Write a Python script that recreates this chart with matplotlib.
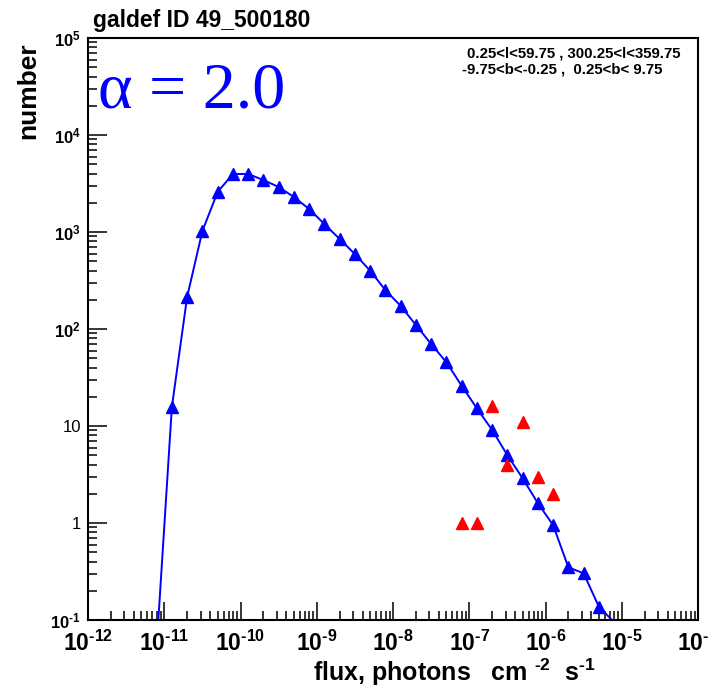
import matplotlib
matplotlib.use("Agg")
import matplotlib.pyplot as plt
import numpy as np
from matplotlib.ticker import FixedLocator, FixedFormatter, LogLocator, NullFormatter

# fonts: ROOT-like helvetica look
matplotlib.rcParams['font.family'] = ['Liberation Sans', 'DejaVu Sans']
matplotlib.rcParams['mathtext.fontset'] = 'custom'
matplotlib.rcParams['mathtext.rm'] = 'Liberation Sans:bold'
matplotlib.rcParams['mathtext.it'] = 'Liberation Sans:bold'
matplotlib.rcParams['mathtext.bf'] = 'Liberation Sans:bold'
matplotlib.rcParams['mathtext.default'] = 'rm'

# source counts per flux bin (log10 flux bin centres)
log_flux_model = [-11.1, -10.9, -10.7, -10.5, -10.3, -10.1, -9.9, -9.7, -9.5, -9.3,
                  -9.1, -8.9, -8.7, -8.5, -8.3, -8.1, -7.9, -7.7, -7.5, -7.3,
                  -7.1, -6.9, -6.7, -6.5, -6.3, -6.1, -5.9, -5.7, -5.5, -5.3, -5.1]
n_model = [0.053, 15.7, 214, 1024, 2585, 3963, 3963, 3436, 2911, 2296,
           1727, 1208, 847, 593, 399, 252, 173, 110, 70, 45.4,
           26.0, 15.2, 9.1, 5.0, 2.89, 1.60, 0.95, 0.349, 0.303, 0.137, 0.095]

# observed counts
log_flux_obs = [-7.1, -6.9, -6.7, -6.5, -6.3, -6.1, -5.9]
n_obs = [1, 1, 16, 4, 11, 3, 2]

x_major = [1e-12, 1e-11, 1e-10, 1e-9, 1e-8, 1e-7, 1e-6, 1e-5, 1e-4]
x_labels = [r'$10^{\text{-}12}$', r'$10^{\text{-}11}$', r'$10^{\text{-}10}$', r'$10^{\text{-}9}$',
            r'$10^{\text{-}8}$', r'$10^{\text{-}7}$', r'$10^{\text{-}6}$', r'$10^{\text{-}5}$',
            r'$10^{\text{-}4}$']
y_major = [1e-1, 1, 10, 1e2, 1e3, 1e4, 1e5]
y_labels = [r'$10^{\text{-}1}$', '1', '10', r'$10^{2}$', r'$10^{3}$', r'$10^{4}$', r'$10^{5}$']

W, H = 708, 690
fig = plt.figure(figsize=(W / 100, H / 100), dpi=100)
ax = fig.add_axes([88 / W, 70 / H, 610 / W, 582 / H])

flux_model = 10 ** np.array(log_flux_model)
n_model = np.array(n_model)
flux_obs = 10 ** np.array(log_flux_obs)

ax.plot(flux_model, n_model, '-', color='#0000ff', lw=1.4, zorder=2)
vis = n_model >= 0.1
ax.plot(flux_model[vis], n_model[vis], '^', color='#0000ff', ms=8, mec='#0000ff', zorder=3)
ax.plot(flux_obs, n_obs, '^', color='#ff0000', ms=8.5, mec='#ff0000', ls='none', zorder=4)

ax.set_xscale('log')
ax.set_yscale('log')
ax.set_xlim(1e-12, 1e-4)
ax.set_ylim(1e-1, 1e5)

ax.xaxis.set_major_locator(FixedLocator(x_major))
ax.xaxis.set_major_formatter(FixedFormatter(x_labels))
ax.yaxis.set_major_locator(FixedLocator(y_major))
ax.yaxis.set_major_formatter(FixedFormatter(y_labels))
for a in (ax.xaxis, ax.yaxis):
    a.set_minor_locator(LogLocator(base=10, subs=np.arange(2, 10), numticks=20))
    a.set_minor_formatter(NullFormatter())

ax.tick_params(which='both', direction='in', top=False, right=False, width=1.1, color='black')
ax.tick_params(axis='x', which='major', length=13, labelsize=16.5, pad=7.5)
ax.tick_params(axis='y', which='major', length=13.5, labelsize=12, pad=5)
ax.tick_params(which='minor', length=6.8)
for s in ax.spines.values():
    s.set_linewidth(1.5)

# titles and annotations
fig.text(93 / W, 1 - 27 / H, 'galdef ID 49_500180', fontsize=16.5, fontweight='bold', va='baseline')
fig.text(28 / W, 1 - 91 / H, 'number', fontsize=19, fontweight='bold', rotation=90,
         ha='center', va='center')
fig.text(313 / W, 1 - 681 / H, r'flux, photons   cm $^{\text{-}2}$  s$^{\text{-}1}$', fontsize=18,
         fontweight='bold', va='baseline')
fig.text(467 / W, 1 - 58 / H, '0.25<l<59.75 , 300.25<l<359.75', fontsize=10.8,
         fontweight='bold', va='baseline')
fig.text(462 / W, 1 - 73 / H, '-9.75<b<-0.25 ,  0.25<b< 9.75', fontsize=10.8,
         fontweight='bold', va='baseline')
fig.text(98 / W, 1 - 108 / H, 'α = 2.0', fontsize=47.5, color='#0000ff',
         family=['Liberation Serif', 'DejaVu Serif'], va='baseline')

fig.savefig('out.png', dpi=100)
plt.close(fig)
